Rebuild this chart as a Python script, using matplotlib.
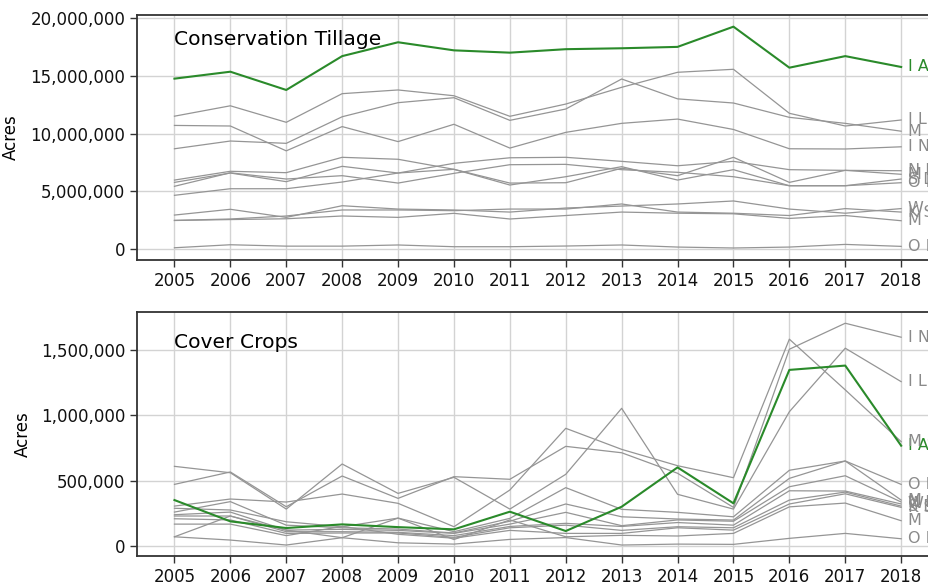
import matplotlib
matplotlib.use("Agg")
import matplotlib.pyplot as plt
from matplotlib.ticker import FuncFormatter

years = list(range(2005, 2019))

states = ["IA", "IL", "MN", "IN", "NE", "MO", "SD", "OH", "WI", "KS", "MI", "OK"]
highlight = "IA"

# Conservation tillage (acres)
till_IA = [14.75e6, 15.35e6, 13.77e6, 16.7e6, 17.9e6, 17.2e6, 17.0e6, 17.3e6, 17.38e6, 17.5e6, 19.25e6, 15.7e6, 16.7e6, 15.76e6]
till_IL = [11.5e6, 12.4e6, 10.97e6, 13.45e6, 13.77e6, 13.27e6, 11.49e6, 12.55e6, 14.0e6, 15.3e6, 15.56e6, 11.75e6, 10.65e6, 11.17e6]
till_MN = [8.68e6, 9.35e6, 9.15e6, 11.45e6, 12.67e6, 13.1e6, 11.14e6, 12.12e6, 14.72e6, 13.0e6, 12.64e6, 11.4e6, 10.88e6, 10.2e6]
till_IN = [10.7e6, 10.65e6, 8.5e6, 10.6e6, 9.3e6, 10.8e6, 8.74e6, 10.1e6, 10.88e6, 11.25e6, 10.35e6, 8.68e6, 8.66e6, 8.85e6]
till_NE = [5.97e6, 6.73e6, 6.61e6, 7.94e6, 7.77e6, 6.9e6, 5.71e6, 5.74e6, 6.99e6, 6.35e6, 7.94e6, 5.77e6, 6.81e6, 6.78e6]
till_MO = [4.65e6, 5.22e6, 5.22e6, 5.8e6, 6.58e6, 7.42e6, 7.9e6, 7.94e6, 7.59e6, 7.21e6, 7.59e6, 6.87e6, 6.81e6, 6.47e6]
till_SD = [5.77e6, 6.58e6, 5.83e6, 7.16e6, 6.58e6, 6.9e6, 5.54e6, 6.26e6, 7.13e6, 5.97e6, 6.87e6, 5.48e6, 5.48e6, 6.06e6]
till_OH = [5.43e6, 6.6e6, 6.06e6, 6.35e6, 5.71e6, 6.55e6, 7.3e6, 7.33e6, 6.87e6, 6.64e6, 6.26e6, 5.48e6, 5.48e6, 5.74e6]
till_WI = [2.94e6, 3.44e6, 2.74e6, 3.75e6, 3.46e6, 3.38e6, 3.2e6, 3.55e6, 3.72e6, 3.9e6, 4.16e6, 3.46e6, 3.1e6, 3.5e6]
till_KS = [2.48e6, 2.6e6, 2.86e6, 3.38e6, 3.38e6, 3.32e6, 3.46e6, 3.46e6, 3.9e6, 3.2e6, 3.1e6, 2.9e6, 3.5e6, 3.2e6]
till_MI = [2.47e6, 2.55e6, 2.62e6, 2.86e6, 2.74e6, 3.09e6, 2.6e6, 2.9e6, 3.2e6, 3.1e6, 3.05e6, 2.65e6, 2.9e6, 2.45e6]
till_OK = [0.11e6, 0.37e6, 0.25e6, 0.25e6, 0.35e6, 0.2e6, 0.2e6, 0.26e6, 0.35e6, 0.17e6, 0.09e6, 0.17e6, 0.4e6, 0.23e6]

# Cover crops (acres)
cover_IA = [352e3, 189e3, 138e3, 166e3, 145e3, 128e3, 263e3, 115e3, 301e3, 602e3, 327e3, 1348e3, 1381e3, 768e3]
cover_IL = [610e3, 561e3, 283e3, 628e3, 403e3, 526e3, 283e3, 549e3, 1054e3, 396e3, 283e3, 1028e3, 1514e3, 1258e3]
cover_IN = [472e3, 567e3, 301e3, 536e3, 365e3, 531e3, 511e3, 763e3, 714e3, 557e3, 296e3, 1506e3, 1705e3, 1598e3]
cover_MO = [306e3, 360e3, 337e3, 398e3, 327e3, 148e3, 429e3, 901e3, 740e3, 615e3, 523e3, 1583e3, 1195e3, 799e3]
cover_OH = [289e3, 276e3, 186e3, 148e3, 214e3, 110e3, 212e3, 447e3, 281e3, 258e3, 224e3, 580e3, 651e3, 472e3]
cover_MN = [260e3, 340e3, 160e3, 140e3, 130e3, 100e3, 190e3, 322e3, 224e3, 207e3, 199e3, 518e3, 651e3, 352e3]
cover_NE = [240e3, 260e3, 122e3, 128e3, 120e3, 97e3, 168e3, 258e3, 156e3, 200e3, 190e3, 454e3, 538e3, 337e3]
cover_WI = [230e3, 230e3, 110e3, 110e3, 105e3, 80e3, 150e3, 174e3, 150e3, 180e3, 160e3, 423e3, 421e3, 322e3]
cover_SD = [209e3, 200e3, 97e3, 100e3, 100e3, 67e3, 140e3, 160e3, 120e3, 148e3, 140e3, 352e3, 413e3, 306e3]
cover_KS = [168e3, 168e3, 80e3, 150e3, 90e3, 60e3, 120e3, 97e3, 97e3, 140e3, 122e3, 322e3, 400e3, 296e3]
cover_MI = [71e3, 230e3, 122e3, 64e3, 214e3, 50e3, 200e3, 71e3, 82e3, 77e3, 97e3, 300e3, 329e3, 194e3]
cover_OK = [71e3, 46e3, 8e3, 64e3, 25e3, 15e3, 51e3, 65e3, 8e3, 15e3, 13e3, 59e3, 97e3, 56e3]

tillage = {"IA": till_IA, "IL": till_IL, "MN": till_MN, "IN": till_IN, "NE": till_NE,
           "MO": till_MO, "SD": till_SD, "OH": till_OH, "WI": till_WI, "KS": till_KS,
           "MI": till_MI, "OK": till_OK}
cover = {"IA": cover_IA, "IL": cover_IL, "MN": cover_MN, "IN": cover_IN, "NE": cover_NE,
         "MO": cover_MO, "SD": cover_SD, "OH": cover_OH, "WI": cover_WI, "KS": cover_KS,
         "MI": cover_MI, "OK": cover_OK}

panel_titles = ["Conservation Tillage", "Cover Crops"]

GREEN = "#2a8a2a"
GRAY = "#959595"
LABEL_GRAY = "#8a8a8a"
SPINE = "#333333"
GRID = "#d3d3d3"

W, H = 929, 583
fig = plt.figure(figsize=(W / 100, H / 100), dpi=100)

def px_axes(left, top, right, bottom):
    return [left / W, 1 - bottom / H, (right - left) / W, (bottom - top) / H]

ax1 = fig.add_axes(px_axes(137, 15, 947, 260))
ax2 = fig.add_axes(px_axes(137, 312, 947, 556))

fmt = FuncFormatter(lambda v, p: f"{int(round(v)):,}")

def draw(ax, data, title, ylim, yticks, title_y):
    for st in states:
        if st == highlight:
            continue
        ax.plot(years, data[st], color=GRAY, lw=0.9, zorder=2)
    ax.plot(years, data[highlight], color=GREEN, lw=1.5, zorder=3)
    for st in states:
        col = GREEN if st == highlight else LABEL_GRAY
        ax.annotate(" ".join(st), xy=(years[-1], data[st][-1]), xytext=(5, 0),
                    textcoords="offset points", va="center", ha="left",
                    color=col, fontsize=11.5, annotation_clip=False)
    ax.set_xlim(2004.33, 2018.82)
    ax.set_ylim(*ylim)
    ax.set_xticks(years)
    ax.set_yticks(yticks)
    ax.yaxis.set_major_formatter(fmt)
    ax.grid(True, color=GRID, lw=1.0, zorder=0)
    ax.set_axisbelow(True)
    for s in ["left", "top", "bottom"]:
        ax.spines[s].set_color(SPINE)
        ax.spines[s].set_linewidth(1.3)
    ax.spines["right"].set_visible(False)
    ax.tick_params(axis="both", labelsize=12, length=5, width=1.0, color=SPINE,
                   labelcolor="#111111")
    ax.set_ylabel("Acres", fontsize=12)
    ax.text(2005, title_y, title, fontsize=14.6, ha="left", va="center", color="black")

draw(ax1, tillage, panel_titles[0], (-0.95e6, 20.26e6),
     [0, 5e6, 10e6, 15e6, 20e6], 18.1e6)
draw(ax2, cover, panel_titles[1], (-76e3, 1.791e6),
     [0, 500e3, 1000e3, 1500e3], 1.554e6)

ax1.yaxis.set_label_coords(-0.1444, 0.5)
ax2.yaxis.set_label_coords(-0.1296, 0.5)

fig.savefig("out.png", dpi=100)
